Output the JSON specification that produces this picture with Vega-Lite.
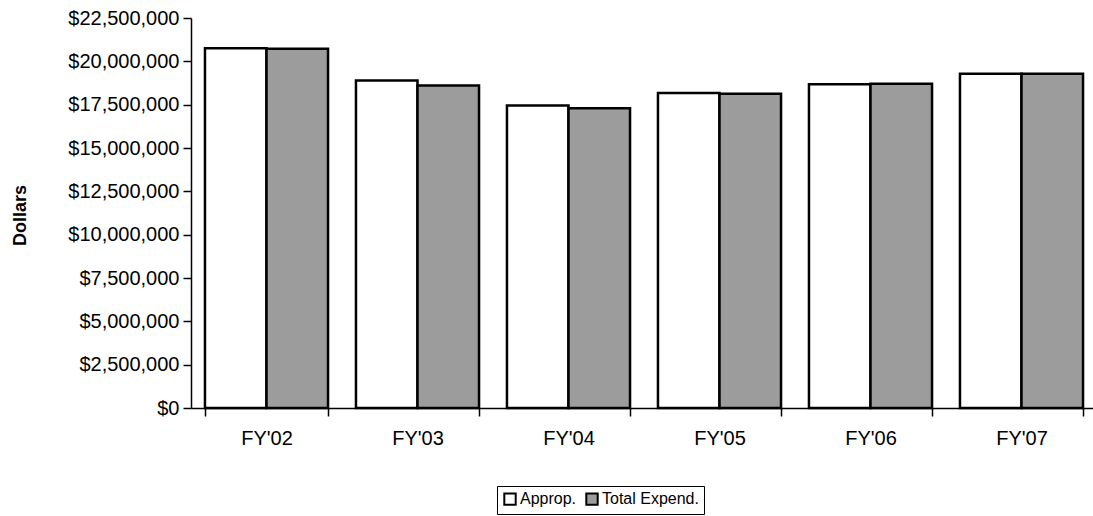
{
  "$schema": "https://vega.github.io/schema/vega-lite/v6.json",
  "autosize": "none",
  "width": 906,
  "height": 390,
  "padding": {"left": 191, "top": 18, "right": 0, "bottom": 108},
  "background": "white",
  "config": {
    "view": {"stroke": null},
    "font": "Liberation Sans",
    "axis": {"labelFont": "Liberation Sans", "titleFont": "Liberation Sans", "labelColor": "black", "titleColor": "black", "domainColor": "black", "tickColor": "black", "grid": false}
  },
  "data": {
    "values": [
      {"year": "FY'02", "series": "Approp.", "amount": 20750000},
      {"year": "FY'02", "series": "Total Expend.", "amount": 20720000},
      {"year": "FY'03", "series": "Approp.", "amount": 18900000},
      {"year": "FY'03", "series": "Total Expend.", "amount": 18600000},
      {"year": "FY'04", "series": "Approp.", "amount": 17450000},
      {"year": "FY'04", "series": "Total Expend.", "amount": 17300000},
      {"year": "FY'05", "series": "Approp.", "amount": 18180000},
      {"year": "FY'05", "series": "Total Expend.", "amount": 18130000},
      {"year": "FY'06", "series": "Approp.", "amount": 18680000},
      {"year": "FY'06", "series": "Total Expend.", "amount": 18700000},
      {"year": "FY'07", "series": "Approp.", "amount": 19280000},
      {"year": "FY'07", "series": "Total Expend.", "amount": 19280000}
    ]
  },
  "mark": {"type": "bar", "stroke": "black", "strokeWidth": 2.5},
  "encoding": {
    "x": {
      "field": "year", "type": "nominal", "sort": null,
      "scale": {"paddingInner": 0.185, "paddingOuter": 0.0925},
      "axis": {"title": null, "labelAngle": 0, "labelFontSize": 20, "tickBand": "extent", "tickSize": 8, "labelPadding": 12, "domainWidth": 1.5, "tickWidth": 1.5}
    },
    "xOffset": {"field": "series", "type": "nominal", "scale": {"paddingInner": 0, "paddingOuter": 0}},
    "y": {
      "field": "amount", "type": "quantitative",
      "scale": {"domain": [0, 22500000], "nice": false},
      "axis": {
        "title": "Dollars", "titleFontSize": 18, "titleFontWeight": "bold",
        "titleX": -162, "titleY": 197, "titleAngle": -90, "titleBaseline": "bottom", "titleAlign": "center",
        "values": [0, 2500000, 5000000, 7500000, 10000000, 12500000, 15000000, 17500000, 20000000, 22500000],
        "format": "$,.0f", "labelFontSize": 20, "tickSize": 8, "labelPadding": 4, "domainWidth": 1.5, "tickWidth": 1.5
      }
    },
    "fill": {
      "field": "series", "type": "nominal",
      "scale": {"domain": ["Approp.", "Total Expend."], "range": ["#ffffff", "#9c9c9c"]},
      "legend": {
        "title": null, "orient": "none", "legendX": 306, "legendY": 468, "direction": "horizontal",
        "strokeColor": "black", "padding": 5, "cornerRadius": 0,
        "symbolType": "square", "symbolSize": 130, "symbolStrokeColor": "black", "symbolStrokeWidth": 2,
        "labelFontSize": 16, "labelColor": "black", "labelOffset": 2, "columnPadding": 5
      }
    }
  }
}
